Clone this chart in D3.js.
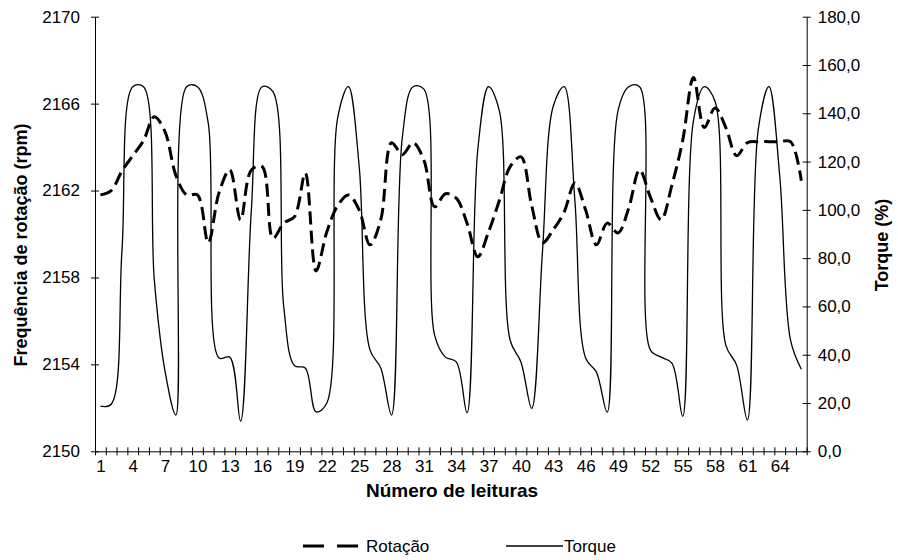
<!DOCTYPE html>
<html>
<head>
<meta charset="utf-8">
<script src="https://cdn.jsdelivr.net/npm/d3@7"></script>
<style>
  body { margin: 0; background: #fff; }
  text { font-family: "Liberation Sans", Arial, sans-serif; fill: #000; }
</style>
</head>
<body>
<svg id="chart" width="898" height="560"></svg>
<script>
// Leituras 1..66
const readings = d3.range(1, 67);

// Frequência de rotação (rpm) por leitura
const rotacao = [
  2161.8, 2162.0, 2162.9, 2163.6, 2164.3, 2165.4, 2164.7, 2162.7, 2161.8, 2161.8,
  2159.6, 2161.9, 2162.95, 2160.65, 2162.95, 2163.1, 2159.8, 2160.5, 2160.8, 2162.8,
  2158.3, 2160.1, 2161.3, 2161.8, 2161.1, 2159.5, 2160.65, 2164.2, 2163.65, 2164.2,
  2163.4, 2161.25, 2161.85, 2161.65, 2160.5, 2158.95, 2160.1, 2161.55, 2163.1, 2163.55,
  2161.3, 2159.6, 2160.2, 2161.0, 2162.35, 2161.1, 2159.5, 2160.5, 2160.05, 2161.2,
  2162.95, 2161.7, 2160.65, 2162.25, 2164.3, 2167.2, 2164.9, 2165.8, 2164.9, 2163.6,
  2164.2, 2164.25, 2164.25, 2164.25, 2164.25, 2162.45
];

// Torque (%) por leitura
const torque = [
  18.7, 19.5, 83, 151, 151, 71, 33, 15, 151, 151,
  136, 38.6, 39, 12.5, 100, 151, 149, 60, 35.5, 34.5,
  16.3, 20, 138, 151, 118, 42, 34.5, 15, 130, 151,
  150, 48, 39, 37, 16, 125, 151, 141, 46, 37,
  17.8, 83, 143, 151, 104, 38.6, 32.8, 16.2, 141, 151,
  151, 42, 39, 36.5, 14.5, 137, 151, 145, 44, 35.7,
  13, 133, 151, 114, 46, 34
];

const rotTicks = [2150, 2154, 2158, 2162, 2166, 2170];
const torqueTicks = [0, 20, 40, 60, 80, 100, 120, 140, 160, 180];
const readingLabels = d3.range(1, 65, 3);

const svg = d3.select("#chart");
const plot = { left: 95, right: 806.7, top: 16.7, bottom: 451.3 };

const x = d3.scaleLinear().domain([0.5, 66.5]).range([plot.left, plot.right]);
const yRot = d3.scaleLinear().domain([2150, 2170]).range([plot.bottom, plot.top]);
const yTor = d3.scaleLinear().domain([0, 180]).range([plot.bottom, plot.top]);

const fmtComma = d => d.toFixed(1).replace(".", ",");

// tick marks that cross the axis line
function crossTicks(g, horizontal) {
  g.selectAll(".tick line")
    .attr(horizontal ? "y1" : "x1", -4)
    .attr(horizontal ? "y2" : "x2", 4)
    .attr("stroke", "#000");
  g.select(".domain").attr("stroke", "#000").attr("stroke-width", 1);
}

// X axis: tick marks between readings
const gx = svg.append("g")
  .attr("transform", `translate(0,${plot.bottom})`)
  .call(d3.axisBottom(x)
    .tickValues(d3.range(0.5, 67, 1))
    .tickFormat("")
    .tickSizeOuter(0));
crossTicks(gx, true);

// X axis labels every third reading
const gxl = svg.append("g")
  .attr("transform", `translate(0,${plot.bottom})`)
  .call(d3.axisBottom(x)
    .tickValues(readingLabels)
    .tickFormat(d3.format("d"))
    .tickSize(0)
    .tickPadding(9));
gxl.select(".domain").remove();
gxl.selectAll("text").attr("font-size", 17);

// Left axis
const gl = svg.append("g")
  .attr("transform", `translate(${plot.left},0)`)
  .call(d3.axisLeft(yRot).tickValues(rotTicks).tickFormat(d3.format("d"))
    .tickSize(4).tickPadding(11).tickSizeOuter(0));
crossTicks(gl, false);
gl.selectAll("text").attr("font-size", 17);

// Right axis
const gr = svg.append("g")
  .attr("transform", `translate(${plot.right},0)`)
  .call(d3.axisRight(yTor).tickValues(torqueTicks).tickFormat(fmtComma)
    .tickSize(4).tickPadding(7).tickSizeOuter(0));
crossTicks(gr, false);
gr.selectAll("text").attr("font-size", 17);

svg.selectAll("g.tick text").attr("font-family", "Liberation Sans, Arial, sans-serif");

// Series (smoothed lines)
const curve = d3.curveCatmullRom.alpha(0.5);

const torqueLine = d3.line()
  .x((d, i) => x(readings[i]))
  .y(d => yTor(d))
  .curve(curve);

const rotLine = d3.line()
  .x((d, i) => x(readings[i]))
  .y(d => yRot(d))
  .curve(curve);

svg.append("path")
  .datum(torque)
  .attr("d", torqueLine)
  .attr("fill", "none")
  .attr("stroke", "#000")
  .attr("stroke-width", 1.3);

svg.append("path")
  .datum(rotacao)
  .attr("d", rotLine)
  .attr("fill", "none")
  .attr("stroke", "#000")
  .attr("stroke-width", 3)
  .attr("stroke-dasharray", "13,6");

// Axis titles
svg.append("text")
  .attr("transform", `translate(21,245) rotate(-90)`)
  .attr("text-anchor", "middle")
  .attr("dominant-baseline", "central")
  .attr("font-size", 18)
  .attr("font-weight", "bold")
  .text("Frequência de rotação (rpm)");

svg.append("text")
  .attr("transform", `translate(882,245) rotate(-90)`)
  .attr("text-anchor", "middle")
  .attr("dominant-baseline", "central")
  .attr("font-size", 18)
  .attr("font-weight", "bold")
  .text("Torque (%)");

svg.append("text")
  .attr("x", 452)
  .attr("y", 490)
  .attr("text-anchor", "middle")
  .attr("dominant-baseline", "central")
  .attr("font-size", 19)
  .attr("font-weight", "bold")
  .text("Número de leituras");

// Legend
const legend = svg.append("g");
legend.append("line")
  .attr("x1", 303).attr("x2", 358).attr("y1", 546).attr("y2", 546)
  .attr("stroke", "#000").attr("stroke-width", 3)
  .attr("stroke-dasharray", "21,13");
legend.append("text")
  .attr("x", 366).attr("y", 546)
  .attr("dominant-baseline", "central")
  .attr("font-size", 17)
  .text("Rotação");
legend.append("line")
  .attr("x1", 506).attr("x2", 563).attr("y1", 546).attr("y2", 546)
  .attr("stroke", "#000").attr("stroke-width", 1.3);
legend.append("text")
  .attr("x", 564).attr("y", 546)
  .attr("dominant-baseline", "central")
  .attr("font-size", 17)
  .text("Torque");
</script>
</body>
</html>
